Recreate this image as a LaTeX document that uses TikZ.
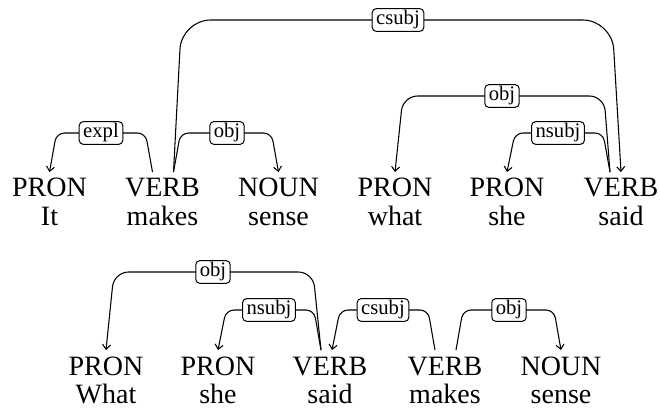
\documentclass[tikz,border=0pt]{standalone}
\usepackage{fontspec}
\setmainfont{Liberation Serif}
\usetikzlibrary{calc,backgrounds,arrows.meta}
\tikzset{
  tag/.style={anchor=base, inner xsep=0pt, inner ysep=4.5pt, text height=14pt, font=\fontsize{21}{25}\selectfont},
  word/.style={anchor=base, inner sep=0pt, font=\fontsize{21}{25}\selectfont},
  lab/.style={draw, fill=white, rounded corners=3pt, line width=0.75pt, inner xsep=3pt, inner ysep=1.5pt, text height=10.5pt, text depth=3.5pt, font=\fontsize{15.5}{18}\selectfont},
  depedge/.style={line width=0.8pt, -{Straight Barb[length=3.5pt,width=6pt]}}
}
\begin{document}
\begin{tikzpicture}[x=0.75pt,y=-0.75pt]
\useasboundingbox (0,0) rectangle (660,409);
% top sentence
\node[tag] (t1) at (49.5,197) {PRON};
\node[tag] (t2) at (162.5,197) {VERB};
\node[tag] (t3) at (278.5,197) {NOUN};
\node[tag] (t4) at (395,197) {PRON};
\node[tag] (t5) at (507,197) {PRON};
\node[tag] (t6) at (621,197) {VERB};
\node[word] (w1) at (49.5,226) {It};
\node[word] (w2) at (162.5,226) {makes};
\node[word] (w3) at (278.5,226) {sense};
\node[word] (w4) at (395,226) {what};
\node[word] (w5) at (507,226) {she};
\node[word] (w6) at (621,226) {said};
\node[lab] (l1) at (101,133) {expl};
\node[lab] (l2) at (227,133) {obj};
\node[lab] (l3) at (398,20) {csubj};
\node[lab] (l4) at (502,96) {obj};
\node[lab] (l5) at (558,133) {nsubj};
% bottom sentence
\node[tag] (b1) at (106,375) {PRON};
\node[tag] (b2) at (218,375) {PRON};
\node[tag] (b3) at (330,375) {VERB};
\node[tag] (b4) at (445,375) {VERB};
\node[tag] (b5) at (561,375) {NOUN};
\node[word] (v1) at (106,403) {What};
\node[word] (v2) at (218,403) {she};
\node[word] (v3) at (330,403) {said};
\node[word] (v4) at (445,403) {makes};
\node[word] (v5) at (561,403) {sense};
\node[lab] (l6) at (213,272) {obj};
\node[lab] (l7) at (269,310) {nsubj};
\node[lab] (l8) at (383,310) {csubj};
\node[lab] (l9) at (509,310) {obj};
\begin{scope}[on background layer]
\draw[depedge, rounded corners=6pt] ($(t2.north)+(-10,0)$) -- ($(t2.north|-l1)+(-17,0)$) -- ($(t1.north|-l1)+(7,0)$) -- (t1.north);
\draw[depedge, rounded corners=6pt] ($(t2.north)+(11,0)$) -- ($(t2.north|-l2)+(18,0)$) -- ($(t3.north|-l2)+(-7,0)$) -- (t3.north);
\draw[depedge, rounded corners=22pt] ($(t2.north)+(11,0)$) -- ($(t2.north|-l3)+(19,0)$) -- ($(t6.north|-l3)+(-9,0)$) -- (t6.north);
\draw[depedge, rounded corners=11pt] ($(t6.north)+(-11,0)$) -- ($(t6.north|-l4)+(-17,0)$) -- ($(t4.north|-l4)+(8,0)$) -- (t4.north);
\draw[depedge, rounded corners=6pt] ($(t6.north)+(-11,0)$) -- ($(t6.north|-l5)+(-18,0)$) -- ($(t5.north|-l5)+(8,0)$) -- (t5.north);
\draw[depedge, rounded corners=11pt] ($(b3.north)+(-9,0)$) -- ($(b3.north|-l6)+(-17,0)$) -- ($(b1.north|-l6)+(8,0)$) -- (b1.north);
\draw[depedge, rounded corners=6pt] ($(b3.north)+(-9,0)$) -- ($(b3.north|-l7)+(-16,0)$) -- ($(b2.north|-l7)+(8,0)$) -- (b2.north);
\draw[depedge, rounded corners=6pt] ($(b4.north)+(-10,0)$) -- ($(b4.north|-l8)+(-17,0)$) -- ($(b3.north|-l8)+(10,0)$) -- ($(b3.north)+(2,0)$);
\draw[depedge, rounded corners=6pt] ($(b4.north)+(11,0)$) -- ($(b4.north|-l9)+(18,0)$) -- ($(b5.north|-l9)+(-7,0)$) -- (b5.north);
\end{scope}
\end{tikzpicture}
\end{document}
